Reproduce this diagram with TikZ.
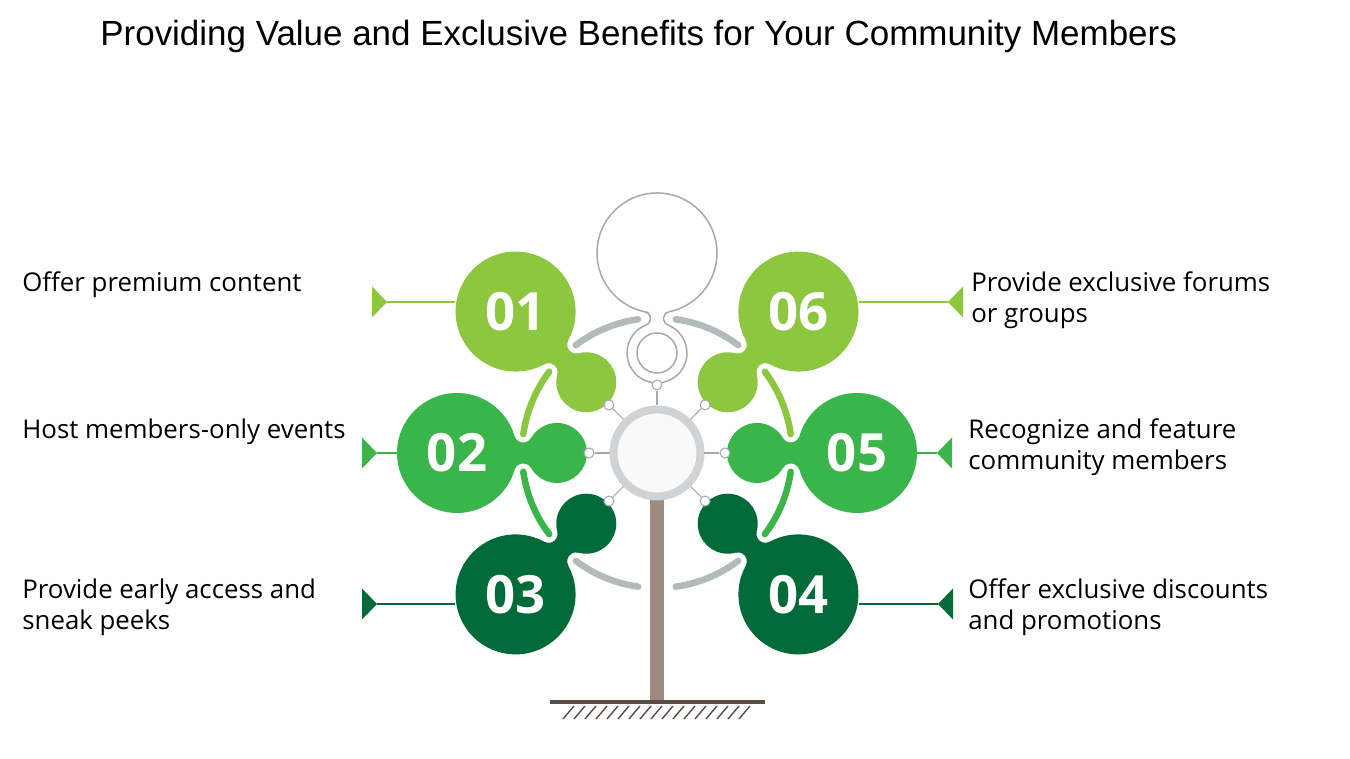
\documentclass[tikz,border=0pt]{standalone}
\usepackage{fontspec}
\setmainfont{Open Sans}
\newfontfamily\titlefont{Liberation Sans}
\usepackage{tikz}
\usetikzlibrary{calc, positioning}
\definecolor{leafA}{RGB}{141,198,63}
\definecolor{leafB}{RGB}{58,181,74}
\definecolor{leafC}{RGB}{0,106,56}
\definecolor{twig}{RGB}{178,186,187}
\definecolor{rim}{RGB}{207,211,214}
\definecolor{sketch}{RGB}{165,170,172}
\definecolor{bark}{RGB}{158,138,126}
\definecolor{soil}{RGB}{90,76,70}
\tikzset{
  neck/.pic={
    \path[pic actions] (142.43,16.92) arc[start angle=-16.38, end angle=-150.07, radius=9]
      -- (126,-14.97) arc[start angle=150.07, end angle=16.38, radius=9] -- cycle;
  }
}

\begin{document}
\begin{tikzpicture}[
  x=0.02cm, y=0.02cm,
  bigleaf/.style={circle, minimum size=2.4cm, inner sep=0pt, text=white, font=\fontsize{30}{30}\selectfont\bfseries},
  lobe/.style={circle, minimum size=1.2cm, inner sep=0pt},
  knot/.style={circle, draw=sketch, fill=white, line width=0.6pt, minimum size=0.2cm, inner sep=0pt},
  spoke/.style={draw=sketch, line width=0.6pt},
  bough/.style={line width=0.13cm, line cap=round},
  lead/.style={line width=0.8pt},
  note/.style={font=\fontsize{14.7}{17.6}\selectfont, align=left, inner sep=0pt, anchor=west}
]
  \useasboundingbox (0,0) rectangle (1350,759);
  \fill[white] (0,0) rectangle (1350,759);

  \coordinate (hubc) at (657,306);
  \coordinate (ground) at (657,57);

  % trunk and soil
  \draw[bark, line width=0.28cm] (hubc) -- (hubc |- ground);
  \draw[soil, line width=0.08cm] ($(ground)+(-107,0)$) -- ($(ground)+(108,0)$);
  \foreach \k in {0,...,16}
    \draw[soil, line width=0.8pt] ($(ground)+(-94+11*\k,-17)$) -- ++(11,13);

  % branches
  \draw[bough, twig] ($(hubc)+(98:135)$) arc[start angle=98, end angle=127, radius=135];
  \draw[bough, twig] ($(hubc)+(82:135)$) arc[start angle=82, end angle=53, radius=135];
  \draw[bough, leafA] ($(hubc)+(143:135)$) arc[start angle=143, end angle=172, radius=135];
  \draw[bough, leafA] ($(hubc)+(37:135)$) arc[start angle=37, end angle=8, radius=135];
  \draw[bough, leafB] ($(hubc)+(188:135)$) arc[start angle=188, end angle=217, radius=135];
  \draw[bough, leafB] ($(hubc)+(-8:135)$) arc[start angle=-8, end angle=-37, radius=135];
  \draw[bough, twig] ($(hubc)+(233:135)$) arc[start angle=233, end angle=262, radius=135];
  \draw[bough, twig] ($(hubc)+(-53:135)$) arc[start angle=-53, end angle=-82, radius=135];

  % leaves
  \pic[rotate=135, fill=leafA] at (hubc) {neck};
  \pic[rotate=180, fill=leafB] at (hubc) {neck};
  \pic[rotate=225, fill=leafC] at (hubc) {neck};
  \pic[rotate=-45, fill=leafC] at (hubc) {neck};
  \pic[rotate=0, fill=leafB] at (hubc) {neck};
  \pic[rotate=45, fill=leafA] at (hubc) {neck};

  \node[bigleaf, fill=leafA] (c01) at ($(hubc)+(135:200)$) {01};
  \node[bigleaf, fill=leafB] (c02) at ($(hubc)+(180:200)$) {02};
  \node[bigleaf, fill=leafC] (c03) at ($(hubc)+(225:200)$) {03};
  \node[bigleaf, fill=leafC] (c04) at ($(hubc)+(-45:200)$) {04};
  \node[bigleaf, fill=leafB] (c05) at ($(hubc)+(0:200)$) {05};
  \node[bigleaf, fill=leafA] (c06) at ($(hubc)+(45:200)$) {06};

  \node[lobe, fill=leafA] (l01) at ($(hubc)+(135:100)$) {};
  \node[lobe, fill=leafB] (l02) at ($(hubc)+(180:100)$) {};
  \node[lobe, fill=leafC] (l03) at ($(hubc)+(225:100)$) {};
  \node[lobe, fill=leafC] (l04) at ($(hubc)+(-45:100)$) {};
  \node[lobe, fill=leafB] (l05) at ($(hubc)+(0:100)$) {};
  \node[lobe, fill=leafA] (l06) at ($(hubc)+(45:100)$) {};

  % empty leaf on top
  \begin{scope}[shift={(hubc)}, rotate=90]
    \draw[sketch, line width=0.03cm, fill=white] (200,0) ++(168.29:60)
      arc[start angle=168.29, end angle=-168.29, radius=60]
      arc[start angle=11.71, end angle=158.43, radius=7]
      arc[start angle=-21.57, end angle=-338.43, radius=30]
      arc[start angle=-158.43, end angle=-11.71, radius=7] -- cycle;
  \end{scope}
  \node[circle, draw=sketch, line width=0.03cm, minimum size=0.8cm, inner sep=0pt] (bud) at ($(hubc)+(90:100)$) {};

  % hub and spokes
  \node[knot] (t00) at ($(hubc)+(90:68)$) {};
  \node[knot] (t01) at ($(hubc)+(135:68)$) {};
  \node[knot] (t02) at ($(hubc)+(180:68)$) {};
  \node[knot] (t03) at ($(hubc)+(225:68)$) {};
  \node[knot] (t04) at ($(hubc)+(-45:68)$) {};
  \node[knot] (t05) at ($(hubc)+(0:68)$) {};
  \node[knot] (t06) at ($(hubc)+(45:68)$) {};
  \node[circle, draw=rim, line width=0.16cm, fill=gray!5, minimum size=1.74cm, inner sep=0pt] (hub) at (hubc) {};
  \draw[spoke] (hub) -- (t00);
  \draw[spoke] (hub) -- (t01);
  \draw[spoke] (hub) -- (t02);
  \draw[spoke] (hub) -- (t03);
  \draw[spoke] (hub) -- (t04);
  \draw[spoke] (hub) -- (t05);
  \draw[spoke] (hub) -- (t06);

  % markers and leaders
  \coordinate (m01) at (387,457);
  \coordinate (m02) at (377,306);
  \coordinate (m03) at (377,155);
  \coordinate (m04) at (938,155);
  \coordinate (m05) at (937,306);
  \coordinate (m06) at (948,457);
  \fill[leafA] (m01) -- ++(-15,15.5) -- ++(0,-31) -- cycle;
  \fill[leafB] (m02) -- ++(-15,15.5) -- ++(0,-31) -- cycle;
  \fill[leafC] (m03) -- ++(-15,15.5) -- ++(0,-31) -- cycle;
  \fill[leafC] (m04) -- ++(15,15.5) -- ++(0,-31) -- cycle;
  \fill[leafB] (m05) -- ++(15,15.5) -- ++(0,-31) -- cycle;
  \fill[leafA] (m06) -- ++(15,15.5) -- ++(0,-31) -- cycle;
  \draw[lead, leafA] (m01) -- (m01 -| c01.west);
  \draw[lead, leafB] (m02) -- (c02.west);
  \draw[lead, leafC] (m03) -- (m03 -| c03.west);
  \draw[lead, leafC] (m04) -- (m04 -| c04.east);
  \draw[lead, leafB] (m05) -- (c05.east);
  \draw[lead, leafA] (m06) -- (m06 -| c06.east);

  % texts
  \node[note] (n01) at (22,474) {Offer premium content};
  \node[note] (n02) at (22,327) {Host members-only events};
  \node[note] (n03) at (22,151.5) {Provide early access and\\sneak peeks};
  \node[note] (n04) at (968,151.5) {Offer exclusive discounts\\and promotions};
  \node[note] (n05) at (968,311.5) {Recognize and feature\\community members};
  \node[note] (n06) at (971,458.5) {Provide exclusive forums\\or groups};

  \node[font=\titlefont\fontsize{19.9}{24}\selectfont, anchor=base west, inner sep=0pt] (title) at (100,713)
    {Providing Value and Exclusive Benefits for Your Community Members};
\end{tikzpicture}
\end{document}
